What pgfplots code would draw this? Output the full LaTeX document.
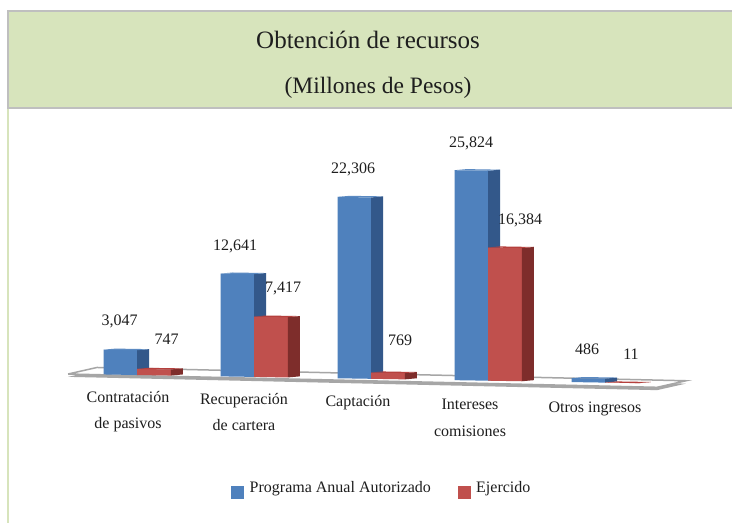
\documentclass[border=0pt]{standalone}
\usepackage{pgfplots}
\pgfplotsset{compat=1.18}
\usepackage{fontspec}
\setmainfont{Liberation Serif}
\definecolor{band}{HTML}{D7E4BC}
\definecolor{bandline}{HTML}{BFBFBF}
\definecolor{blueF}{HTML}{4F81BD}
\definecolor{blueS}{HTML}{33588A}
\definecolor{blueT}{HTML}{5B8AC2}
\definecolor{redF}{HTML}{C0504D}
\definecolor{redS}{HTML}{7E2D2B}
\definecolor{redT}{HTML}{B5403D}
\definecolor{floorE}{HTML}{A6A6A6}
\definecolor{ink}{HTML}{1E1E1E}
% x0, x1, value, front, side, top
\newcommand\threedbar[6]{%
  \addplot3[fill=#4,draw=none] coordinates {(#1,0,0)(#2,0,0)(#2,0,#3)(#1,0,#3)};
  \addplot3[fill=#5,draw=none] coordinates {(#2,0,0)(#2,1,0)(#2,1,#3)(#2,0,#3)};
  \addplot3[fill=#6,draw=none] coordinates {(#1,0,#3)(#2,0,#3)(#2,1,#3)(#1,1,#3)};
}
\begin{document}
\begin{tikzpicture}[x=1pt,y=-1pt]
\useasboundingbox (0,0) rectangle (732,523);
\fill[white] (0,0) rectangle (732,523);
% header band and frame
\fill[band] (7,10) rectangle (732,108);
\fill[band] (7,108) rectangle (9,523);
\fill[bandline] (7,10) rectangle (732,12);
\fill[bandline] (7,106.5) rectangle (732,108.5);
\fill[bandline] (7,10) rectangle (8.5,108);
\begin{axis}[
  anchor=origin, at={(137pt,-375pt)},
  x={(117pt,-1.9pt)}, y={(12pt,1.1pt)}, z={(0pt,0.00813pt)},
  xmin=-2, xmax=6, ymin=-4, ymax=7, zmin=-500, zmax=27000,
  hide axis, clip=false,
]
% floor
\addplot3[fill=floorE,draw=none] coordinates {(-0.579,-0.1,-350)(4.75,-2.976,-350)(4.442,2.44,-350)(-0.887,5.31,-350)};
\addplot3[fill=white,draw=floorE,line width=1.5pt] coordinates {(-0.579,-0.1,0)(4.75,-2.976,0)(4.442,2.44,0)(-0.887,5.31,0)(-0.579,-0.1,0)};
% bars: Programa Anual Autorizado, Ejercido
\threedbar{-0.285}{0}{3047}{blueF}{blueS}{blueT}
\threedbar{0}{0.29}{747}{redF}{redS}{redT}
\threedbar{0.715}{1}{12641}{blueF}{blueS}{blueT}
\threedbar{1}{1.29}{7417}{redF}{redS}{redT}
\threedbar{1.715}{2}{22306}{blueF}{blueS}{blueT}
\threedbar{2}{2.29}{769}{redF}{redS}{redT}
\threedbar{2.715}{3}{25824}{blueF}{blueS}{blueT}
\threedbar{3}{3.29}{16384}{redF}{redS}{redT}
\threedbar{3.715}{4}{486}{blueF}{blueS}{blueT}
\threedbar{4}{4.29}{11}{redF}{redS}{redT}
\end{axis}
% title
\node[anchor=base,text=ink,font=\fontsize{25}{30}\selectfont] at (368,48) {Obtención de recursos};
\node[anchor=base,text=ink,font=\fontsize{23.5}{27}\selectfont] at (378,93) {(Millones de Pesos)};
% value labels
\begin{scope}[every node/.style={anchor=base,text=ink,inner sep=0pt,font=\fontsize{16}{18}\selectfont}]
\node at (119.5,325) {3,047};
\node at (166.7,344) {747};
\node at (235,250) {12,641};
\node at (283,292) {7,417};
\node at (353,173) {22,306};
\node at (400,345) {769};
\node at (471,147) {25,824};
\node at (520,224) {16,384};
\node at (587,354) {486};
\node at (631,359) {11};
\end{scope}
% category labels
\begin{scope}[every node/.style={anchor=base,text=ink,inner sep=0pt,font=\fontsize{16}{18}\selectfont}]
\node at (128,402) {Contratación};
\node at (128,428) {de pasivos};
\node at (244,404) {Recuperación};
\node at (244,430) {de cartera};
\node at (358,406) {Captación};
\node at (470,409) {Intereses};
\node at (470,436) {comisiones};
\node at (595,412) {Otros ingresos};
\end{scope}
% legend
\fill[blueF] (231,486) rectangle (244,499);
\fill[redF] (458,486) rectangle (471,499);
\node[anchor=base west,text=ink,inner sep=0pt,font=\fontsize{16}{18}\selectfont] at (249.5,492) {Programa Anual Autorizado};
\node[anchor=base west,text=ink,inner sep=0pt,font=\fontsize{16}{18}\selectfont] at (476,492) {Ejercido};
\end{tikzpicture}
\end{document}
